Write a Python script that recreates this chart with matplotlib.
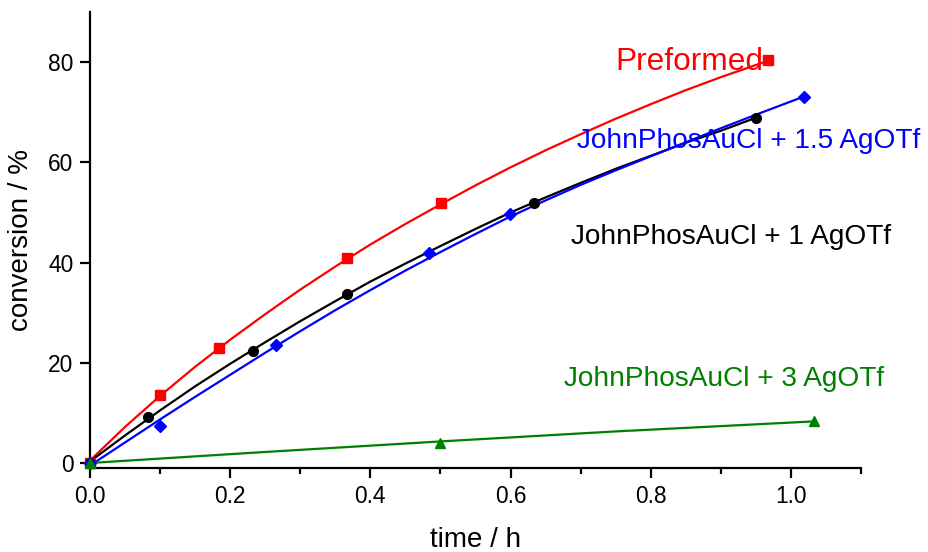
import matplotlib
matplotlib.use("Agg")
import matplotlib.pyplot as plt
from matplotlib.ticker import MultipleLocator

plt.rcParams['font.family'] = ['Liberation Sans', 'DejaVu Sans']

# measured points (time / h, conversion / %)
pre_t = [0.0, 0.100, 0.184, 0.366, 0.501, 0.968]
pre_y = [0.0, 13.6, 23.0, 40.9, 51.8, 80.5]
one_t = [0.0, 0.083, 0.233, 0.366, 0.633, 0.950]
one_y = [0.0, 9.1, 22.4, 33.8, 51.8, 68.9]
onefive_t = [0.0, 0.100, 0.266, 0.483, 0.599, 1.018]
onefive_y = [0.0, 7.3, 23.6, 41.9, 49.7, 73.1]
three_t = [0.0, 0.499, 1.033]
three_y = [0.0, 3.9, 8.3]

# fitted curves
pre_fit_t = [0.0, 0.05, 0.1, 0.15, 0.2, 0.25, 0.3, 0.35, 0.4, 0.45, 0.5,
             0.55, 0.6, 0.65, 0.7, 0.75, 0.8, 0.85, 0.9, 0.962]
pre_fit_y = [0.5, 7.2, 13.4, 19.2, 24.6, 29.7, 34.6, 39.2, 43.6, 47.7, 51.6,
             55.4, 59.0, 62.4, 65.6, 68.7, 71.6, 74.4, 77.0, 80.0]
one_fit_t = [0.0, 0.05, 0.1, 0.15, 0.2, 0.25, 0.3, 0.35, 0.4, 0.45, 0.5,
             0.55, 0.6, 0.65, 0.7, 0.75, 0.8, 0.85, 0.9, 0.95]
one_fit_y = [0.3, 5.5, 10.5, 15.3, 19.8, 24.1, 28.3, 32.3, 36.2, 39.8, 43.3,
             46.7, 50.0, 53.0, 55.9, 58.7, 61.3, 63.9, 66.3, 68.9]
onefive_fit_t = [0.0, 0.05, 0.1, 0.15, 0.2, 0.25, 0.3, 0.35, 0.4, 0.45, 0.5,
                 0.55, 0.6, 0.65, 0.7, 0.75, 0.8, 0.85, 0.9, 0.95, 1.018]
onefive_fit_y = [-0.5, 4.1, 8.7, 13.2, 17.6, 22.0, 26.3, 30.5, 34.5, 38.4, 42.1,
                 45.7, 49.2, 52.4, 55.5, 58.4, 61.2, 64.0, 66.8, 69.5, 73.1]
three_fit_t = [0.0, 0.25, 0.5, 0.75, 1.033]
three_fit_y = [0.0, 2.2, 4.3, 6.3, 8.3]

fig = plt.figure(figsize=(9.29, 5.52), dpi=100)
ax = fig.add_axes([90 / 929, 84 / 552, 771 / 929, 456 / 552])

lw = 1.6
ax.plot(pre_fit_t, pre_fit_y, color='red', lw=lw, zorder=2)
ax.plot(one_fit_t, one_fit_y, color='black', lw=lw, zorder=2)
ax.plot(onefive_fit_t, onefive_fit_y, color='blue', lw=lw, zorder=2)
ax.plot(three_fit_t, three_fit_y, color='green', lw=lw, zorder=2)

ax.plot(pre_t, pre_y, 's', color='red', ms=6.5, ls='none', zorder=3, clip_on=False)
ax.plot(one_t, one_y, 'o', color='black', ms=7, ls='none', zorder=3, clip_on=False)
ax.plot(onefive_t, onefive_y, 'D', color='blue', ms=6, ls='none', zorder=3, clip_on=False)
ax.plot(three_t, three_y, '^', color='green', ms=7.5, ls='none', zorder=3, clip_on=False)

ax.set_xlim(0, 1.1)
ax.set_ylim(-1, 90)
ax.xaxis.set_minor_locator(MultipleLocator(0.1))
ax.set_xticks([0, 0.2, 0.4, 0.6, 0.8, 1.0])
ax.set_xticklabels(['0.0', '0.2', '0.4', '0.6', '0.8', '1.0'])
ax.set_yticks([0, 20, 40, 60, 80])

for s in ['top', 'right']:
    ax.spines[s].set_visible(False)
for s in ['left', 'bottom']:
    ax.spines[s].set_linewidth(1.6)

ax.tick_params(axis='both', which='major', direction='out', length=7, width=1.6,
               labelsize=16.4, pad=5)
ax.tick_params(axis='x', which='minor', direction='out', length=4, width=1.6)

ax.set_xlabel('time / h', fontsize=20, labelpad=14)
ax.set_ylabel('conversion / %', fontsize=20, labelpad=10)

ax.text(0.749, 78.4, 'Preformed', color='red', fontsize=22.8, ha='left', va='baseline')
ax.text(0.695, 62.8, 'JohnPhosAuCl + 1.5 AgOTf', color='blue', fontsize=20.2,
        ha='left', va='baseline')
ax.text(0.686, 43.8, 'JohnPhosAuCl + 1 AgOTf', color='black', fontsize=20.2,
        ha='left', va='baseline')
ax.text(0.676, 15.3, 'JohnPhosAuCl + 3 AgOTf', color='green', fontsize=20.2,
        ha='left', va='baseline')

fig.savefig('out.png', dpi=100)
